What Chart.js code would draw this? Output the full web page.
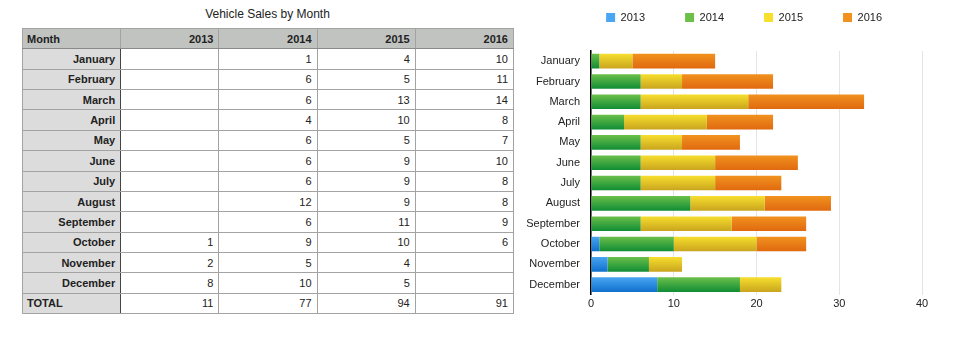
<!DOCTYPE html>
<html>
<head>
<meta charset="utf-8">
<script src="https://cdn.jsdelivr.net/npm/chart.js@4/dist/chart.umd.min.js"></script>
<style>
  body { margin: 0; background: #fff; font-family: 'Liberation Sans', Arial, sans-serif; color: #222; }
  #page { position: relative; width: 960px; height: 343px; overflow: hidden; }
  #title { position: absolute; left: 22px; top: 7px; width: 491px; text-align: center; font-size: 12px; }
  #sales { position: absolute; left: 22px; top: 28px; width: 492px;
           border-collapse: collapse; table-layout: fixed; font-size: 11px; color: #222; }
  #sales tr { height: 20.36px; }
  #sales td, #sales th { border: 1px solid #a3a3a3; padding: 0 5px 0 4px; text-align: right;
                         font-weight: normal; color: #222; line-height: 12px; }
  #sales thead th { background: #c1c3c1; font-weight: bold; border-bottom-color: #8a8a8a; }
  #sales tbody th, #sales tfoot th { background: #dcdcdc; font-weight: bold; border-right: 1px solid #444; }
  #sales .left { text-align: left; }
  #chartBox { position: absolute; left: 520px; top: -28px; width: 440px; height: 371px; }
</style>
</head>
<body>
<div id="page">
  <div id="title">Vehicle Sales by Month</div>
  <table id="sales"></table>
  <div id="chartBox"><canvas id="barChart"></canvas></div>
</div>
<script>
const months = ['January','February','March','April','May','June','July','August','September','October','November','December'];
const years = ['2013','2014','2015','2016'];
const sales2013 = [null, null, null, null, null, null, null, null, null, 1, 2, 8];
const sales2014 = [1, 6, 6, 4, 6, 6, 6, 12, 6, 9, 5, 10];
const sales2015 = [4, 5, 13, 10, 5, 9, 9, 9, 11, 10, 4, 5];
const sales2016 = [10, 11, 14, 8, 7, 10, 8, 8, 9, 6, null, null];
const xTicks = [0, 10, 20, 30, 40];

const series = [sales2013, sales2014, sales2015, sales2016];
// top / bottom shade for each year
const shades = [
    ['#4aa6f2', '#0e6fcc'],
    ['#6cc04a', '#0f8c35'],
    ['#f7df2e', '#c9a41e'],
    ['#f1921f', '#e0690f']
];

// table on the left
const buildTable = () => {
    const table = document.getElementById('sales');
    let html = '<thead><tr><th class="left">Month</th>';
    years.forEach(y => html += '<th>' + y + '</th>');
    html += '</tr></thead><tbody>';
    months.forEach((m, i) => {
        html += '<tr><th>' + m + '</th>';
        series.forEach(s => html += '<td>' + (s[i] == null ? '' : s[i]) + '</td>');
        html += '</tr>';
    });
    html += '</tbody><tfoot><tr><th class="left">TOTAL</th>';
    series.forEach(s => html += '<td>' + s.reduce((a, v) => a + (v || 0), 0) + '</td>');
    html += '</tr></tfoot>';
    table.innerHTML = html;
}

Chart.defaults.font.family = "'Liberation Sans', Arial, sans-serif";
Chart.defaults.font.size = 11;
Chart.defaults.color = '#222';

const barFill = (k) => (ctx) => {
    const [top, bottom] = shades[k];
    const y = ctx.chart.scales.y;
    if (ctx.type !== 'data' || !y || !ctx.chart.chartArea) return bottom;
    const mid = y.getPixelForValue(ctx.dataIndex);
    const g = ctx.chart.ctx.createLinearGradient(0, mid - 7.5, 0, mid + 7.5);
    g.addColorStop(0, top);
    g.addColorStop(1, bottom);
    return g;
}

const legendHeight = {
    id: 'legendHeight',
    beforeInit(chart) {
        const fit = chart.legend.fit;
        chart.legend.fit = function () {
            fit.bind(chart.legend)();
            this.height = 79;
        };
    }
};

const salesChart = () => {
    const data = {
        labels: months,
        datasets: years.map((y, k) => ({
            label: y,
            data: series[k],
            backgroundColor: barFill(k),
            borderWidth: 0,
            barPercentage: 0.72,
            categoryPercentage: 1
        }))
    };

    const options = {
        indexAxis: 'y',
        responsive: true,
        maintainAspectRatio: false,
        animation: false,
        layout: { padding: { left: 0, right: 38, top: 0, bottom: 29 } },
        plugins: {
            legend: {
                position: 'top',
                align: 'end',
                labels: { boxWidth: 9, boxHeight: 9, padding: 40, color: '#222' }
            },
            tooltip: { enabled: false }
        },
        scales: {
            x: {
                stacked: true,
                min: 0,
                max: 40,
                afterBuildTicks: (scale) => { scale.ticks = xTicks.map(v => ({ value: v })); },
                grid: { color: '#e4e4e4', drawTicks: false },
                border: { display: false },
                ticks: { padding: 3, color: '#222' }
            },
            y: {
                stacked: true,
                afterFit: (scale) => { scale.width = 71; },
                grid: { drawOnChartArea: false, drawTicks: false },
                border: { color: '#000', width: 1.5 },
                ticks: { padding: 11, color: '#222' }
            }
        }
    };

    new Chart('barChart', { type: 'bar', data, options, plugins: [legendHeight] });
}

buildTable();
salesChart();
</script>
</body>
</html>
